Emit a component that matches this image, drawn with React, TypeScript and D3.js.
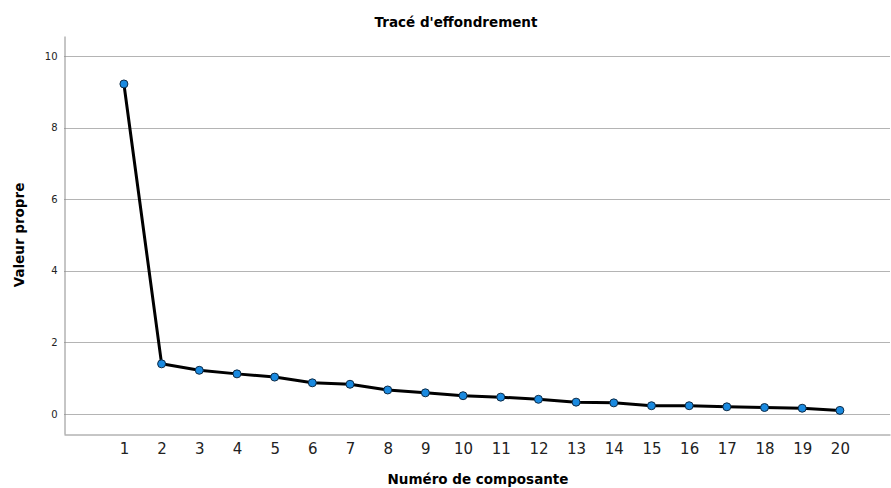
import React, { useEffect, useRef } from 'react';
import * as d3 from 'd3';

// composantes et valeurs propres
const composantes = [1, 2, 3, 4, 5, 6, 7, 8, 9, 10, 11, 12, 13, 14, 15, 16, 17, 18, 19, 20];
const valeursPropres = [9.22, 1.4, 1.22, 1.12, 1.03, 0.87, 0.83, 0.67, 0.59, 0.51, 0.47, 0.41, 0.33, 0.31, 0.23, 0.23, 0.2, 0.18, 0.16, 0.1];
const yTicks = [0, 2, 4, 6, 8, 10];

const W = 891;
const H = 488;

export default function App() {
  const ref = useRef<SVGSVGElement>(null);

  useEffect(() => {
    const svg = d3.select(ref.current);
    svg.selectAll('*').remove();

    const margin = { top: 36, right: 1, bottom: 54, left: 64 };
    const font = 'DejaVu Sans, Verdana, sans-serif';

    const x = d3.scaleLinear()
      .domain([-0.59, 21.33])
      .range([margin.left, W - margin.right]);
    const y = d3.scaleLinear()
      .domain([-0.56, 10.56])
      .range([H - margin.bottom, margin.top]);

    const data = composantes.map((c, i) => ({ c, v: valeursPropres[i] }));

    // grid
    svg.append('g')
      .selectAll('line')
      .data(yTicks)
      .join('line')
      .attr('x1', margin.left)
      .attr('x2', W - margin.right)
      .attr('y1', d => Math.round(y(d)) + 0.5)
      .attr('y2', d => Math.round(y(d)) + 0.5)
      .attr('stroke', '#b4b4b4')
      .attr('stroke-width', 1);

    // y axis
    const yAxis = svg.append('g')
      .attr('transform', `translate(${margin.left + 0.5},0)`)
      .call(d3.axisLeft(y).tickValues(yTicks).tickSize(0).tickPadding(7));
    yAxis.select('.domain').attr('stroke', '#8c8c8c');
    yAxis.selectAll('text').attr('font-family', font).attr('font-size', 10).attr('fill', '#222');

    // x axis
    const xAxis = svg.append('g')
      .attr('transform', `translate(0,${H - margin.bottom + 0.5})`)
      .call(d3.axisBottom(x).tickValues(composantes).tickFormat(d3.format('d')).tickSize(0).tickPadding(9));
    xAxis.select('.domain').attr('stroke', '#8c8c8c');
    xAxis.selectAll('text').attr('font-family', font).attr('font-size', 15).attr('fill', '#222');

    // line
    const line = d3.line<{ c: number; v: number }>()
      .x(d => x(d.c))
      .y(d => y(d.v));
    svg.append('path')
      .datum(data)
      .attr('fill', 'none')
      .attr('stroke', '#000')
      .attr('stroke-width', 3)
      .attr('stroke-linejoin', 'round')
      .attr('d', line);

    // points
    svg.append('g')
      .selectAll('circle')
      .data(data)
      .join('circle')
      .attr('cx', d => x(d.c))
      .attr('cy', d => y(d.v))
      .attr('r', 4)
      .attr('fill', '#1a8ae0')
      .attr('stroke', '#0d2a45')
      .attr('stroke-width', 1);

    // titles
    svg.append('text')
      .attr('x', 456)
      .attr('y', 27)
      .attr('text-anchor', 'middle')
      .attr('font-family', font)
      .attr('font-weight', 'bold')
      .attr('font-size', 13.5)
      .text("Tracé d'effondrement");

    svg.append('text')
      .attr('x', 478)
      .attr('y', 484)
      .attr('text-anchor', 'middle')
      .attr('font-family', font)
      .attr('font-weight', 'bold')
      .attr('font-size', 13.5)
      .text('Numéro de composante');

    svg.append('text')
      .attr('transform', `translate(24,235) rotate(-90)`)
      .attr('text-anchor', 'middle')
      .attr('font-family', font)
      .attr('font-weight', 'bold')
      .attr('font-size', 13.5)
      .text('Valeur propre');
  }, []);

  return (
    <svg
      ref={ref}
      width={W}
      height={H}
      style={{ position: 'absolute', left: 0, top: 0, background: '#fff' }}
    />
  );
}
